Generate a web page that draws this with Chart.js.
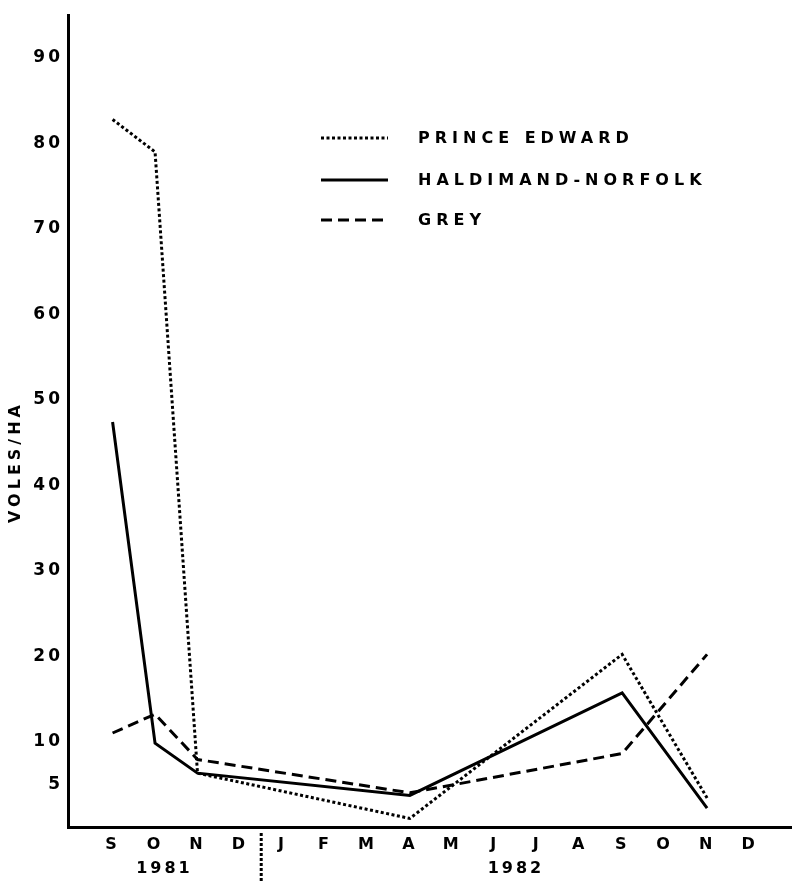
<!DOCTYPE html>
<html>
<head>
<meta charset="utf-8">
<script src="https://cdn.jsdelivr.net/npm/chart.js@4.4.1/dist/chart.umd.min.js"></script>
<style>
  html, body { margin: 0; padding: 0; background: #fff; }
</style>
</head>
<body>
<canvas id="voles" width="792" height="883"></canvas>
<script>
const months = ["S", "O", "N", "D", "J", "F", "M", "A", "M", "J", "J", "A", "S", "O", "N", "D"];
const years = ["1981", "1982"];
const yTicks = [5, 10, 20, 30, 40, 50, 60, 70, 80, 90];
const seriesNames = ["PRINCE EDWARD", "HALDIMAND-NORFOLK", "GREY"];
const princeEdward = [82.8, 79.0, 6.3, null, null, null, null, 1.0, null, null, null, null, 20.2, null, 3.4, null];
const haldimand = [47.4, 9.8, 6.3, null, null, null, null, 3.7, null, null, null, null, 15.7, null, 2.2, null];
const grey = [11.0, 13.2, 7.9, null, null, null, null, 4.0, null, null, null, null, 8.6, null, 20.2, null];

const FONT_FAMILY = "'DejaVu Sans', 'Liberation Sans', sans-serif";

const toPoints = arr => arr.map((v, i) => ({ x: i, y: v })).filter(p => p.y !== null);

const lineStyle = (label, values, dash) => ({
  label: label,
  data: toPoints(values),
  borderColor: "#000",
  borderWidth: 3,
  borderDash: dash,
  borderCapStyle: "butt",
  borderJoinStyle: "miter",
  pointRadius: 0,
  tension: 0,
  fill: false,
});

// legend, year labels, axis title and the dotted year divider
const decor = {
  id: "decor",
  beforeDraw(chart) {
    chart.ctx.letterSpacing = "3px";
  },
  afterDraw(chart) {
    const ctx = chart.ctx;
    const xs = chart.scales.x;
    const area = chart.chartArea;
    ctx.save();
    ctx.fillStyle = "#000";
    ctx.strokeStyle = "#000";

    // dotted divider between 1981 and 1982
    const xd = xs.getPixelForValue(3.5);
    ctx.lineWidth = 3;
    ctx.setLineDash([3, 2]);
    ctx.beginPath();
    ctx.moveTo(xd, area.bottom + 6);
    ctx.lineTo(xd, chart.height);
    ctx.stroke();
    ctx.setLineDash([]);

    ctx.font = "bold 16px " + FONT_FAMILY;
    ctx.textBaseline = "middle";
    ctx.textAlign = "center";
    ctx.letterSpacing = "3px";
    ctx.fillText(years[0], xs.getPixelForValue(1.22), 869);
    ctx.fillText(years[1], xs.getPixelForValue(9.5), 869);

    // y axis title
    ctx.save();
    ctx.translate(16, 462);
    ctx.rotate(-Math.PI / 2);
    ctx.letterSpacing = "4px";
    ctx.fillText("VOLES/HA", 0, 0);
    ctx.restore();

    // legend
    const rows = [138, 180, 220];
    ctx.textAlign = "left";
    ctx.letterSpacing = "5px";
    chart.data.datasets.forEach((ds, i) => {
      ctx.lineWidth = 3;
      ctx.setLineDash(ds.borderDash || []);
      ctx.beginPath();
      ctx.moveTo(321, rows[i]);
      ctx.lineTo(388, rows[i]);
      ctx.stroke();
      ctx.setLineDash([]);
      ctx.fillText(seriesNames[i], 418, rows[i] + 1);
    });
    ctx.restore();
  }
};

new Chart(document.getElementById("voles"), {
  type: "line",
  data: {
    datasets: [
      lineStyle(seriesNames[0], princeEdward, [3, 2.5]),
      lineStyle(seriesNames[1], haldimand, []),
      lineStyle(seriesNames[2], grey, [11, 6]),
    ],
  },
  options: {
    responsive: false,
    animation: false,
    layout: { padding: { top: 9, right: 0, left: 0, bottom: 0 } },
    plugins: {
      legend: { display: false },
      tooltip: { enabled: false },
    },
    scales: {
      x: {
        type: "linear",
        min: -1.05,
        max: 16,
        afterBuildTicks: s => { s.ticks = months.map((m, i) => ({ value: i })); },
        afterFit: s => { s.height = 56; },
        grid: { display: false, drawTicks: false },
        border: { display: true, color: "#000", width: 3 },
        ticks: {
          color: "#000",
          padding: 8,
          autoSkip: false,
          maxRotation: 0,
          font: { family: FONT_FAMILY, size: 16, weight: "bold" },
          callback: v => months[v],
        },
      },
      y: {
        min: 0,
        max: 95,
        afterBuildTicks: s => { s.ticks = yTicks.map(v => ({ value: v })); },
        afterFit: s => { s.width = 68; },
        grid: { display: false, drawTicks: false },
        border: { display: true, color: "#000", width: 3 },
        ticks: {
          color: "#000",
          padding: 5,
          font: { family: FONT_FAMILY, size: 17, weight: "bold" },
        },
      },
    },
  },
  plugins: [decor],
});
</script>
</body>
</html>
